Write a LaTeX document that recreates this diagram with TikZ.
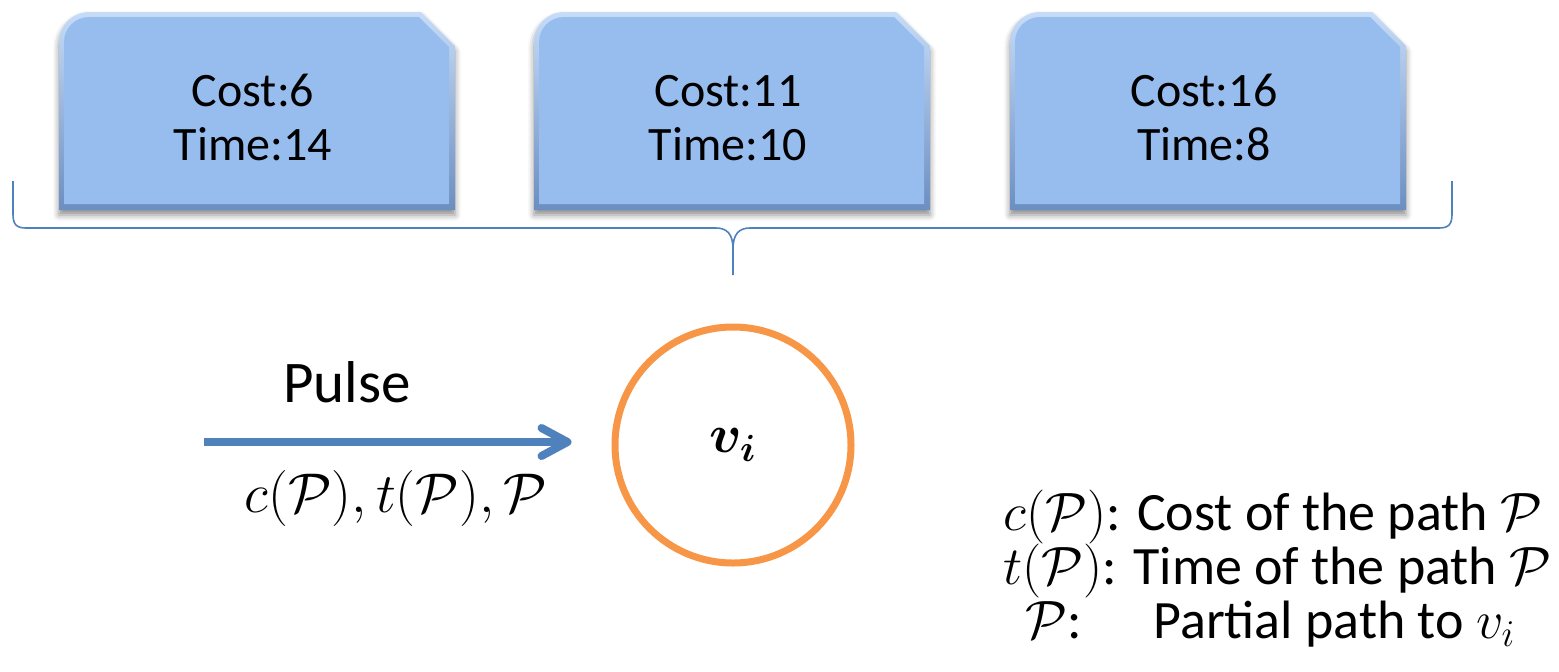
\RequirePackage{fix-cm}
\documentclass[tikz,border=0pt]{standalone}
\usepackage{bm}
\usepackage{fontspec}
\setmainfont{Carlito}
\usetikzlibrary{arrows.meta,shadows.blur}
\definecolor{boxfill}{HTML}{97BDEF}
\definecolor{boxlight}{HTML}{C6DCF8}
\definecolor{boxdark}{HTML}{6C8EC0}
\definecolor{accent}{HTML}{4F81BD}
\definecolor{ring}{HTML}{F79646}
\tikzset{
  boxtext/.style={anchor=base, inner sep=0pt, font=\fontsize{24}{28}\selectfont},
  bigtext/.style={anchor=base, inner sep=0pt, font=\fontsize{29.5}{34}\selectfont},
  legend/.style={anchor=base west, inner sep=0pt, font=\fontsize{27}{30}\selectfont},
  bracket/.style={draw=accent, line width=0.8pt},
  pulse/.style={draw=accent, line width=4pt,
    -{Straight Barb[length=13pt,width=14pt,line width=4pt,round]}},
  vertex/.style={circle, draw=ring, line width=3.5pt, minimum size=118pt, inner sep=0pt,
    font=\fontsize{27}{30}\selectfont},
}
\begin{document}
\begin{tikzpicture}[x=0.5pt,y=-0.5pt]
\useasboundingbox (0,0) rectangle (1559,671);

% three labelled tags with a rounded and a snipped corner
\foreach \xa/\lab/\cost/\tim in {59/b1/6/14, 534/b2/11/10, 1010/b3/16/8}{
  \pgfmathsetmacro{\xb}{\xa+396}
  \path[blur shadow={shadow xshift=0pt, shadow yshift=-2.5pt, shadow blur radius=3pt, shadow opacity=45},
        top color=boxlight, bottom color=boxdark]
    (\xa,210) -- (\xa,42) .. controls (\xa,25.4) and (\xa+13.4,12) .. (\xa+30,12)
    -- (\xb-34,12) -- (\xb,46) -- (\xb,210) -- cycle;
  \fill[boxfill]
    (\xa+5,204) -- (\xa+5,42) .. controls (\xa+5,28.2) and (\xa+16.2,17) .. (\xa+30,17)
    -- (\xb-36,17) -- (\xb-6,47) -- (\xb-6,204) -- cycle;
  \node[boxtext] (\lab c) at (\xa+194,106) {Cost:\cost};
  \node[boxtext] (\lab t) at (\xa+194,160) {Time:\tim};
}

% curly bracket gathering the tags
\coordinate (bl) at (13,181);
\coordinate (br) at (1452,181);
\coordinate (bm) at (733,249);
\coordinate (btip) at (733,275);
\draw[bracket] (bl) -- (13,214) .. controls (13,224) and (16,228) .. (26,228)
  -- (716,228) .. controls (727,228) and (733,234) .. (bm) -- (btip);
\draw[bracket] (br) -- (1452,214) .. controls (1452,224) and (1449,228) .. (1439,228)
  -- (750,228) .. controls (739,228) and (733,234) .. (bm);

% the vertex receiving the pulse
\node[vertex] (v) at (733,445) {$\bm{v}_{\bm{i}}$};
\coordinate (pin) at (204,442);
\draw[pulse, shorten >=20pt] (pin) -- (pin -| v.west);
\node[bigtext] (plabel) at (347,402) {Pulse};
\node[legend, anchor=base, font=\fontsize{28}{30}\selectfont] (pargs) at (396,512)
  {$c(\mathcal{P}), t(\mathcal{P}), \mathcal{P}$};

% legend
\node[legend] (l1) at (1003,530) {$c(\mathcal{P})$: Cost of the path $\mathcal{P}$};
\node[legend] (l2) at (1003,584) {$t(\mathcal{P})$: Time of the path $\mathcal{P}$};
\node[legend] (l3a) at (1025,638) {$\mathcal{P}$:};
\node[legend] (l3b) at (1153,638) {Partial path to $v_i$};
\end{tikzpicture}
\end{document}
